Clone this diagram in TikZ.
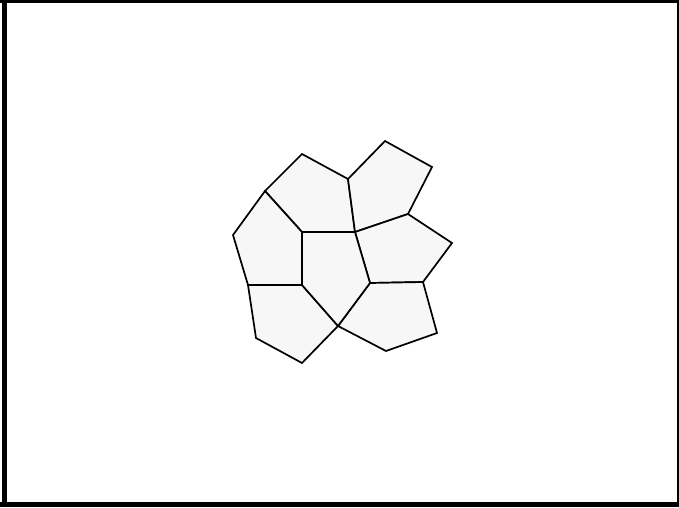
\documentclass[tikz,border=0pt]{standalone}
\begin{document}
\begin{tikzpicture}[x=1pt,y=-1pt,
  tile/.style={draw=black,fill=black!3,line width=1.7pt,line join=miter},
  framebar/.style={fill=black,draw=none}]
\useasboundingbox (0,0) rectangle (679,507);
\fill[white] (0,0) rectangle (679,507);
% frame
\path[framebar] (2,0) rectangle (7,507);
\path[framebar] (0,0) rectangle (679,3);
\path[framebar] (677,0) rectangle (679,507);
\path[framebar] (0,502) rectangle (679,507);
% vertices
\coordinate (a1) at (302,154);
\coordinate (a2) at (348,179);
\coordinate (c0) at (355,232);
\coordinate (a4) at (302,232);
\coordinate (a5) at (265,191);
\coordinate (b2) at (385,141);
\coordinate (b3) at (432,167);
\coordinate (b4) at (408,214);
\coordinate (c3) at (452,243);
\coordinate (c4) at (423,282);
\coordinate (c5) at (370,283);
\coordinate (d3) at (437,333);
\coordinate (d4) at (386,351);
\coordinate (d5) at (338,326);
\coordinate (e1) at (302,285);
\coordinate (e3) at (302,363);
\coordinate (e4) at (256,338);
\coordinate (e5) at (248,285);
\coordinate (f5) at (233,235);
% tiles
\path[tile] (a1)--(a2)--(c0)--(a4)--(a5)--cycle;
\path[tile] (a2)--(b2)--(b3)--(b4)--(c0)--cycle;
\path[tile] (c0)--(b4)--(c3)--(c4)--(c5)--cycle;
\path[tile] (c5)--(c4)--(d3)--(d4)--(d5)--cycle;
\path[tile] (e1)--(d5)--(e3)--(e4)--(e5)--cycle;
\path[tile] (a5)--(a4)--(e1)--(e5)--(f5)--cycle;
\path[tile] (a4)--(c0)--(c5)--(d5)--(e1)--cycle;
\end{tikzpicture}
\end{document}
